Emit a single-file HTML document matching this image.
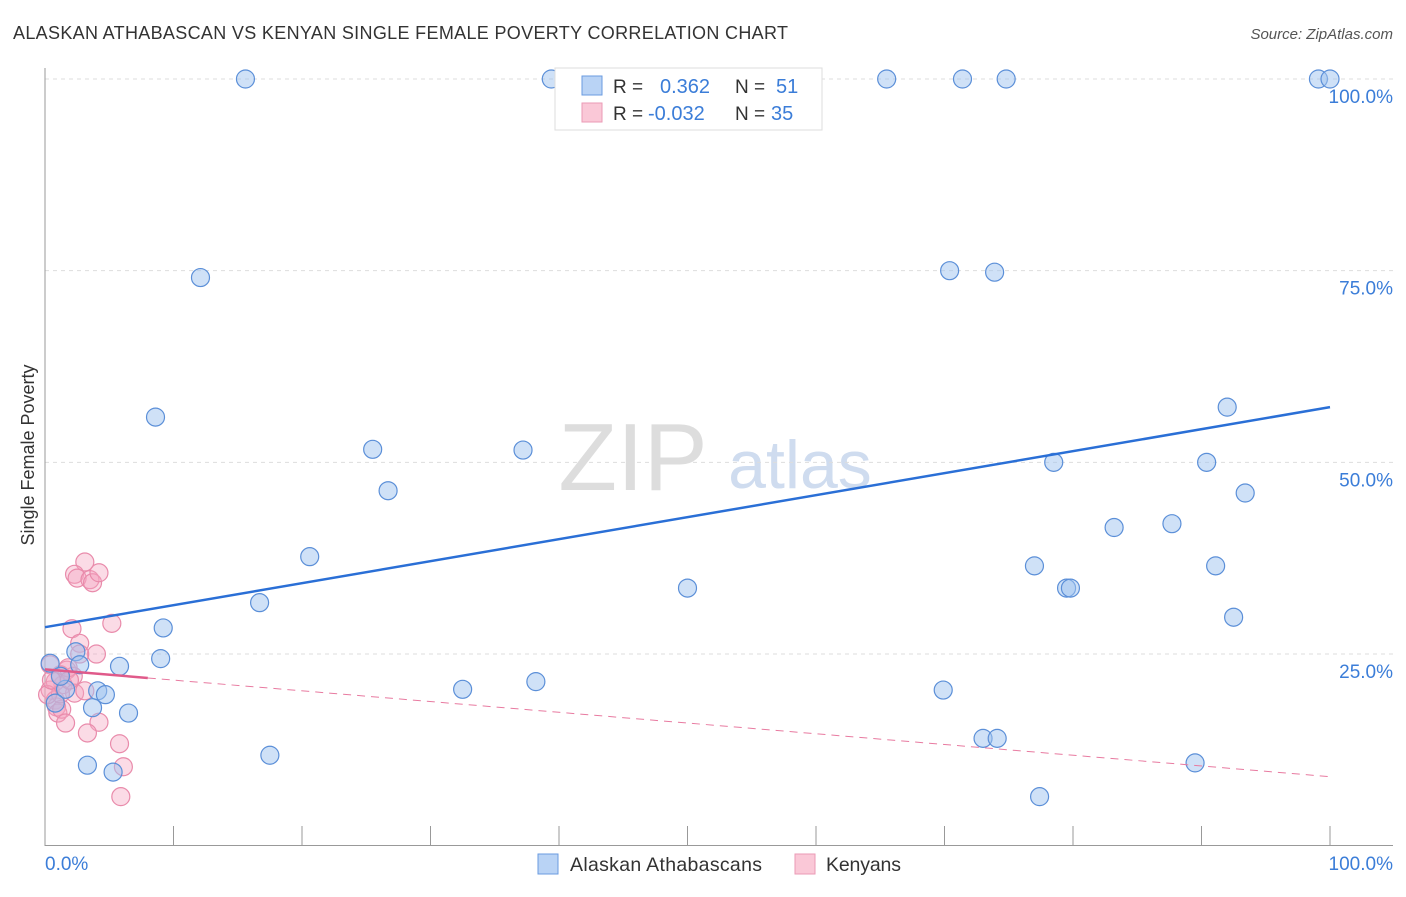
<!DOCTYPE html>
<html><head><meta charset="utf-8"><style>
body{margin:0;background:#fff;font-family:"Liberation Sans",sans-serif}
svg text{font-family:"Liberation Sans",sans-serif}
</style></head><body>
<svg id="chart" width="1406" height="892" xmlns="http://www.w3.org/2000/svg">
<text x="13" y="39" font-size="18" fill="#333" textLength="775">ALASKAN ATHABASCAN VS KENYAN SINGLE FEMALE POVERTY CORRELATION CHART</text>
<text x="1393" y="39" font-size="15" fill="#555" font-style="italic" text-anchor="end">Source: ZipAtlas.com</text>
<g>
<text x="633" y="490" font-size="96" fill="#ddd" font-family="Liberation Serif,serif" text-anchor="middle">ZIP</text>
<text x="800" y="488" font-size="68" fill="#cfdcef" text-anchor="middle">atlas</text>
</g>
<g id="grid"></g>
<g id="axes"></g>
<g id="pts"></g>
<g id="lines"></g>
<text transform="translate(34,455) rotate(-90)" font-size="18" fill="#333" text-anchor="middle">Single Female Poverty</text>
<text x="45" y="870" font-size="19" fill="#3b7dd8">0.0%</text>
<text x="1393" y="870" font-size="19" fill="#3b7dd8" text-anchor="end">100.0%</text>
<g>
<rect x="555" y="68" width="267" height="62" fill="#fff" stroke="#ddd"/>
<rect x="582" y="76" width="20" height="19" fill="#b9d3f5" stroke="#6a9be0"/>
<rect x="582" y="103" width="20" height="19" fill="#fac8d7" stroke="#eb9ab5"/>
<text x="613" y="93" font-size="19" fill="#333">R = <tspan x="660" fill="#3b7dd8" font-size="20">0.362</tspan><tspan x="735" fill="#333">N = </tspan><tspan x="776" fill="#3b7dd8" font-size="20">51</tspan></text>
<text x="613" y="120" font-size="19" fill="#333">R = <tspan x="648" fill="#3b7dd8" font-size="20">-0.032</tspan><tspan x="735" fill="#333">N = </tspan><tspan x="771" fill="#3b7dd8" font-size="20">35</tspan></text>
</g>
<g>
<rect x="538" y="854" width="20" height="20" fill="#b9d3f5" stroke="#6a9be0"/>
<text x="570" y="871" font-size="19.5" fill="#333" textLength="192">Alaskan Athabascans</text></g>
<g>
<rect x="795" y="854" width="20" height="20" fill="#fac8d7" stroke="#eb9ab5"/>
<text x="826" y="871" font-size="19.5" fill="#333" textLength="75">Kenyans</text></g>
</svg>
<script>
const yTicks=[25,50,75,100];
const yTickLabels=["25.0%","50.0%","75.0%","100.0%"];
const xTicks=[0,10,20,30,40,50,60,70,80,90,100];
const blueX=[15.6,39.4,65.5,71.4,74.8,99.1,100,12.1,70.4,73.9,8.6,25.5,37.2,26.7,92.0,78.5,90.4,93.4,20.6,83.2,87.7,77.0,91.1,79.5,79.8,50.0,16.7,92.5,9.2,9.0,5.8,2.4,2.7,0.4,4.1,4.7,1.6,32.5,38.2,69.9,3.7,6.5,0.8,73.0,74.1,17.5,3.3,5.3,89.5,77.4,1.2];
const blueY=[100,100,100,100,100,100,100,74.1,75.0,74.8,55.9,51.7,51.6,46.3,57.2,50.0,50.0,46.0,37.7,41.5,42.0,36.5,36.5,33.6,33.6,33.6,31.7,29.8,28.4,24.4,23.4,25.3,23.6,23.8,20.2,19.7,20.4,20.4,21.4,20.3,18.0,17.3,18.6,14.0,14.0,11.8,10.5,9.6,10.8,6.4,22.1];
const pinkX=[3.1,2.3,2.5,3.5,3.7,4.2,5.2,2.1,2.7,4.0,2.7,1.7,2.2,1.2,1.4,0.4,0.8,0.9,1.0,1.3,1.6,4.2,3.3,5.8,6.1,5.9,1.8,0.4,0.8,2.3,3.1,1.2,0.2,0.5,1.9];
const pinkY=[37.0,35.4,34.9,34.7,34.3,35.6,29.0,28.3,26.4,25.0,25.0,22.9,22.1,22.3,21.0,20.3,19.0,18.1,17.3,17.8,16.0,16.1,14.7,13.3,10.3,6.4,23.2,23.6,21.4,19.9,20.2,19.8,19.7,21.6,21.6];
const blueTrend=[28.5,57.2];
const pinkTrend=[23.0,9.0];
const pinkSolidEnd=8;
const X0=45,X1=1330,Y0=845.7,Y100=79;
const sx=v=>X0+(X1-X0)*v/100;
const sy=v=>Y0-(Y0-Y100)*v/100;
const NS="http://www.w3.org/2000/svg";
function mk(p,t,a){const e=document.createElementNS(NS,t);for(const k in a)e.setAttribute(k,a[k]);p.appendChild(e);return e;}
const grid=document.getElementById('grid'),axes=document.getElementById('axes'),pts=document.getElementById('pts'),lines=document.getElementById('lines');
yTicks.forEach((v,i)=>{
 const l=mk(grid,'line',{x1:45,x2:1393,y1:sy(v),y2:sy(v),stroke:'#ddd','stroke-dasharray':'4,4'});
 
 
 const t=mk(grid,'text',{x:1393,y:sy(v)+24,'font-size':19,fill:'#3b7dd8','text-anchor':'end'});
 t.textContent=yTickLabels[i];
 
 
});
const ya=mk(axes,'line',{x1:45,x2:45,y1:68,y2:846,stroke:'#999'});


const xa=mk(axes,'line',{x1:45,x2:1393,y1:845.5,y2:845.5,stroke:'#999'});


xTicks.forEach(v=>{
 const t=mk(axes,'line',{x1:sx(v),x2:sx(v),y1:826,y2:846,stroke:'#999'});
 
 
});
pinkX.forEach((x,i)=>{
 const c=mk(pts,'circle',{cx:sx(x),cy:sy(pinkY[i]),r:9,fill:'rgba(245,165,192,0.4)',stroke:'#e98bab','stroke-width':1.2});
 
 
});
blueX.forEach((x,i)=>{
 const c=mk(pts,'circle',{cx:sx(x),cy:sy(blueY[i]),r:9,fill:'rgba(160,196,240,0.5)',stroke:'#5b8fd8','stroke-width':1.2});
 
 
});
const bl=mk(lines,'line',{x1:sx(0),y1:sy(blueTrend[0]),x2:sx(100),y2:sy(blueTrend[1]),stroke:'#2a6fd6','stroke-width':2.5});


const pAt=v=>pinkTrend[0]+(pinkTrend[1]-pinkTrend[0])*v/100;
const pd=mk(lines,'line',{x1:sx(pinkSolidEnd),y1:sy(pAt(pinkSolidEnd)),x2:sx(100),y2:sy(pinkTrend[1]),stroke:'#e87aa0','stroke-width':1,'stroke-dasharray':'8,6'});


const ps=mk(lines,'line',{x1:sx(0),y1:sy(pinkTrend[0]),x2:sx(pinkSolidEnd),y2:sy(pAt(pinkSolidEnd)),stroke:'#e05a8a','stroke-width':2.5});


</script>
</body></html>
